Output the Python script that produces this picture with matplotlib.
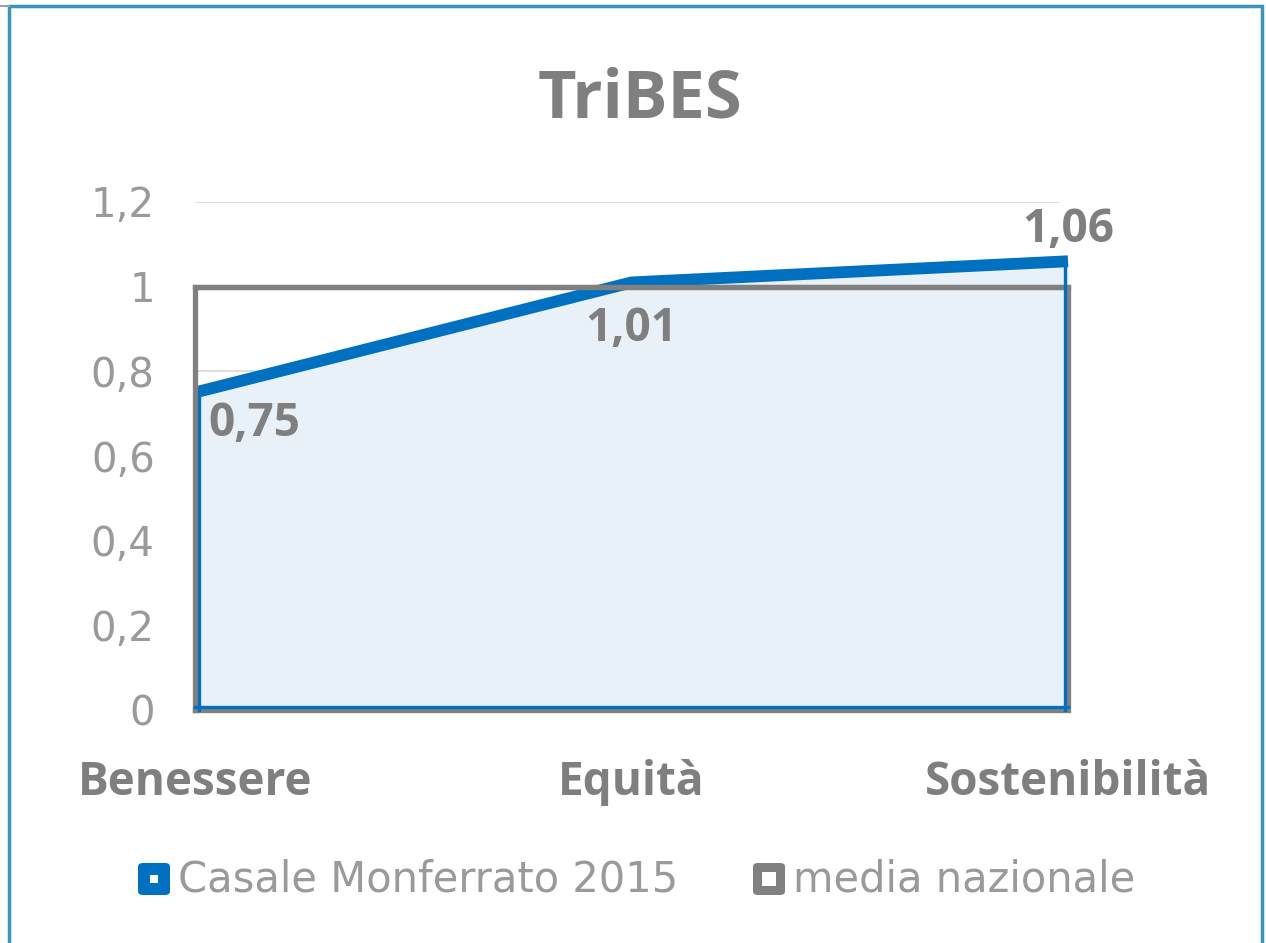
import matplotlib
matplotlib.use("Agg")
import matplotlib.pyplot as plt
from matplotlib.patches import Rectangle, FancyBboxPatch
from matplotlib import font_manager
import matplotlib.transforms as mtransforms

categories = ["Benessere", "Equità", "Sostenibilità"]
casale = [0.75, 1.01, 1.06]
media = [1.0, 1.0, 1.0]
value_labels = ["0,75", "1,01", "1,06"]
yticks = [0, 0.2, 0.4, 0.6, 0.8, 1.0, 1.2]
ytick_labels = ["0", "0,2", "0,4", "0,6", "0,8", "1", "1,2"]
series_names = ["Casale Monferrato 2015", "media nazionale"]
title = "TriBES"

BLUE = "#0070c0"
FILL = "#e9f1f8"
GREY = "#808080"
TXT = "#7f7f7f"
LIGHT = "#9a9a9a"

avail = {f.name for f in font_manager.fontManager.ttflist}
bold_font = [f for f in ["Open Sans", "Lato", "DejaVu Sans"] if f in avail]
thin_font = ["DejaVu Sans"]

W, H = 1266, 943
fig = plt.figure(figsize=(W / 100, H / 100), dpi=100)

def fx(px):
    return px / W

def fy(py):
    return 1 - py / H

# outer frame
fig.patches.append(Rectangle((fx(9), fy(960)), fx(1262) - fx(9), fy(6) - fy(960),
                             transform=fig.transFigure, fill=False,
                             edgecolor="#3a96b8", lw=2.5))
fig.lines.append(plt.Line2D([0, fx(9)], [fy(6), fy(6)], transform=fig.transFigure,
                            color="#a0a0a0", lw=1.5))

ax = fig.add_axes([fx(195), fy(710), fx(1068) - fx(195), fy(202) - fy(710)])
x = list(range(len(categories)))
ax.set_xlim(0, len(categories) - 1)
ax.set_ylim(0, 1.2)

for s in ax.spines.values():
    s.set_visible(False)

for t in yticks[1:]:
    ax.axhline(t, color="#d9d9d9", lw=1.2, zorder=0.5, xmax=0.99)

def shifted(dx, dy):
    return ax.transData + mtransforms.ScaledTranslation(dx / 100, dy / 100, fig.dpi_scale_trans)

# blue area
ax.fill_between(x, 0, casale, color=FILL, zorder=1, lw=0)
# grey rectangle (media nazionale)
ax.plot([x[0], x[0], x[-1], x[-1], x[0]], [0, media[0], media[-1], 0, 0], color=GREY,
        lw=3.8, zorder=3.5, solid_joinstyle="miter", clip_on=False)
# blue border inside grey
ax.plot([x[0], x[0]], [casale[0], 0], color=BLUE, lw=2.4, zorder=4,
        transform=shifted(3.5, 0), clip_on=False)
ax.plot([x[-1], x[-1]], [casale[-1], 0], color=BLUE, lw=2.4, zorder=4,
        transform=shifted(-3.5, 0), clip_on=False)
ax.plot([x[0], x[-1]], [0, 0], color=BLUE, lw=2.4, zorder=4,
        transform=shifted(0, 3.5), clip_on=False)
# blue thick top line
ax.plot(x, casale, color=BLUE, lw=8.5, zorder=3, solid_capstyle="butt",
        clip_on=False)
ax.plot([x[0], x[-1]], [media[0], media[-1]], color=GREY, lw=3.8, zorder=3.6,
        clip_on=False)

ax.set_yticks(yticks)
ax.set_yticklabels(ytick_labels, color=LIGHT, fontsize=29, family=thin_font)
ax.tick_params(axis="y", length=0, pad=29)
ax.set_xticks(x)
ax.set_xticklabels(categories, color=TXT, fontsize=33, family=bold_font,
                   fontweight="bold")
ax.tick_params(axis="x", length=0, pad=35)

offsets = [(43, -22), (0, -33), (0, 23)]
for xi, v, lab, off in zip(x, casale, value_labels, offsets):
    ax.annotate(lab, (xi, v), xytext=off, textcoords="offset points",
                ha="center", va="center", color=TXT, fontsize=33,
                family=bold_font, fontweight="bold", zorder=6,
                annotation_clip=False)

fig.text(fx(640), fy(100), title, ha="center", va="center", color=TXT,
         fontsize=48, family=bold_font, fontweight="bold")

# legend
leg_y = 879
items = [(138, series_names[0], BLUE), (753, series_names[1], GREY)]
for lx, name, col in items:
    fig.patches.append(FancyBboxPatch((fx(lx), fy(leg_y + 16)), fx(32), fy(0) - fy(32),
                                      boxstyle="round,pad=0,rounding_size=0.004",
                                      transform=fig.transFigure, facecolor=col,
                                      edgecolor=col, lw=0))
    inner = 8 if col == BLUE else 14
    fig.patches.append(Rectangle((fx(lx + 16 - inner / 2), fy(leg_y + inner / 2)),
                                 fx(inner), fy(0) - fy(inner),
                                 transform=fig.transFigure, facecolor="white", lw=0))
    fig.text(fx(lx + 40), fy(leg_y), name, ha="left", va="center", color=LIGHT,
             fontsize=30, family=thin_font)

fig.savefig("out.png", dpi=100)
